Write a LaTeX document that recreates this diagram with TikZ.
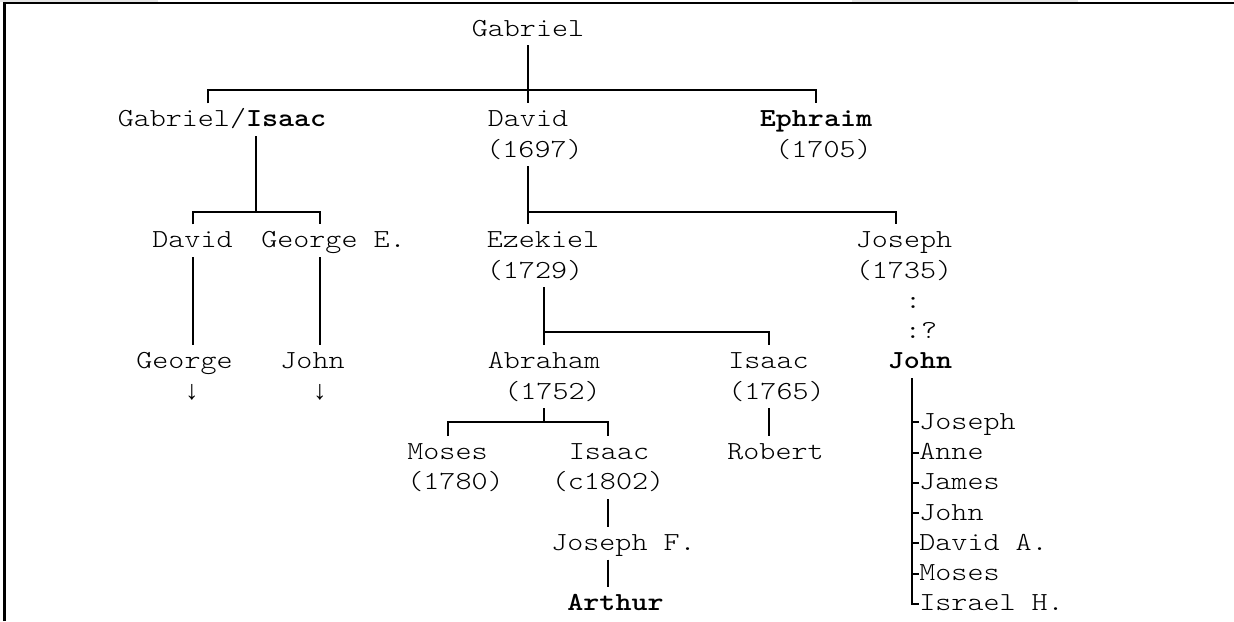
\documentclass[tikz,border=0pt]{standalone}
\usepackage{fontspec}
\newfontfamily\treefont{lmmonolt10-regular.otf}[BoldFont=lmmonolt10-bold.otf, FakeStretch=1.175]
\newfontfamily\arrowfont{Liberation Mono}
\usetikzlibrary{calc}
\tikzset{
  person/.style={
    font=\treefont\fontsize{13}{15}\selectfont,
    inner sep=0pt,
    text height=11.5pt,
    text depth=4.5pt,
    anchor=base
  },
  heir/.style={
    person,
    font=\treefont\fontsize{13}{15}\selectfont\bfseries
  },
  more/.style={
    person,
    font=\arrowfont\fontsize{13.37}{15}\selectfont
  },
  link/.style={
    draw=black,
    line width=1pt
  },
  frame/.style={
    draw=black,
    line width=1.2pt
  }
}

\begin{document}
\begin{tikzpicture}[x=0.5pt,y=-0.5pt]
% Family tree, one text row every 30.25 units
\useasboundingbox (0,0) rectangle (1234,621);
\fill[gray!20] (0,0) rectangle (158,2);
\fill[gray!20] (852,0) rectangle (1078,2);
\draw[frame] (4.5,621) -- (4.5,3) -- (1234,3);

% nodes
\node[person] (gabriel) at (528,36) {Gabriel};

\node[person] (gisaac) at (222,126.75) {Gabriel/\textbf{Isaac}};
\node[person] (gdavid) at (528,126.75) {David};
\node[heir] (ephraim) at (816,126.75) {Ephraim};
\node[person] (gdavidy) at (534.5,157) {(1697)};
\node[person] (ephraimy) at (823.5,157) {(1705)};

\node[person] (ldavid) at (192.5,247.75) {David};
\node[person] (georgee) at (333.5,247.75) {George E.};
\node[person] (ezekiel) at (543,247.75) {Ezekiel};
\node[person] (joseph) at (904,247.75) {Joseph};
\node[person] (ezekiely) at (535,278) {(1729)};
\node[person] (josephy) at (904,278) {(1735)};
\node[person] (dots1) at (913,308.25) {:};
\node[person] (dots2) at (921,338.5) {:?};

\node[person] (george) at (184.5,368.75) {George};
\node[person] (ljohn) at (312.5,368.75) {John};
\node[person] (abraham) at (544,368.75) {Abraham};
\node[person] (isaac) at (768.5,368.75) {Isaac};
\node[heir] (john) at (920,368.75) {John};
\node[more] (arrow1) at (192,399) {↓};
\node[more] (arrow2) at (320,399) {↓};
\node[person] (abrahamy) at (552.5,399) {(1752)};
\node[person] (isaacy) at (776.5,399) {(1765)};

\node[person] (moses) at (447.5,459.5) {Moses};
\node[person] (isaac2) at (609,459.5) {Isaac};
\node[person] (robert) at (775.5,459.5) {Robert};
\node[person] (mosesy) at (455.5,489.75) {(1780)};
\node[person] (isaac2y) at (608,489.75) {(c1802)};
\node[person] (josephf) at (623.5,550.25) {Joseph F.};
\node[heir] (arthur) at (615.5,610.75) {Arthur};

% children of John
\node[person, anchor=base west] (joseph2) at (919,429.25) {Joseph};
\node[person, anchor=base west] (anne) at (919,459.5) {Anne};
\node[person, anchor=base west] (james) at (919,489.75) {James};
\node[person, anchor=base west] (john2) at (919,520) {John};
\node[person, anchor=base west] (davida) at (919,550.25) {David A.};
\node[person, anchor=base west] (moses2) at (919,580.5) {Moses};
\node[person, anchor=base west] (israel) at (919,610.75) {Israel H.};

% edges

%% Gabriel
\coordinate (gl) at (208,90);
\draw[link] (gabriel.south) -- (gdavid.north);
\draw[link] (gl |- gisaac.north) -- (gl) -- (gl -| ephraim.north) -- (ephraim.north);

%% Gabriel/Isaac
\coordinate (ix) at (256,211.5);
\coordinate (ir) at (320,211.5);
\draw[link] (ix |- gisaac.south) -- (ix);
\draw[link] (ldavid.north) -- (ldavid.north |- ir) -- (ir) -- (ir |- georgee.north);
\draw[link] (ldavid.south) -- (ldavid.south |- george.north);
\draw[link] (ir |- georgee.south) -- (ir |- ljohn.north);

%% David
\coordinate (dr) at (896,211.5);
\draw[link] (gdavid |- gdavidy.south) -- (gdavid |- ezekiel.north);
\draw[link] (gdavid |- dr) -- (dr) -- (dr |- joseph.north);

%% Ezekiel
\coordinate (er) at (768.5,332);
\draw[link] (abraham |- ezekiely.south) -- (abraham.north);
\draw[link] (abraham |- er) -- (er) -- (isaac.north);

%% Abraham
\coordinate (al) at (447.5,422);
\coordinate (ar) at (608,422);
\draw[link] (abraham |- abrahamy.south) -- (abraham |- al);
\draw[link] (moses.north) -- (al) -- (ar) -- (ar |- isaac2.north);

%% Isaac
\draw[link] (isaac |- isaacy.south) -- (isaac |- robert.north);
\draw[link] (isaac2y.south) -- (isaac2y.south |- josephf.north);
\draw[link] (isaac2y |- josephf.south) -- (isaac2y |- arthur.north);

%% John
\coordinate (jx) at (912,0);
\draw[link] (jx |- john.south) -- (jx |- israel.west) -- (israel.west);
\foreach \kid in {joseph2,anne,james,john2,davida,moses2}
  \draw[link] (jx |- \kid.west) -- (\kid.west);

\end{tikzpicture}
\end{document}
